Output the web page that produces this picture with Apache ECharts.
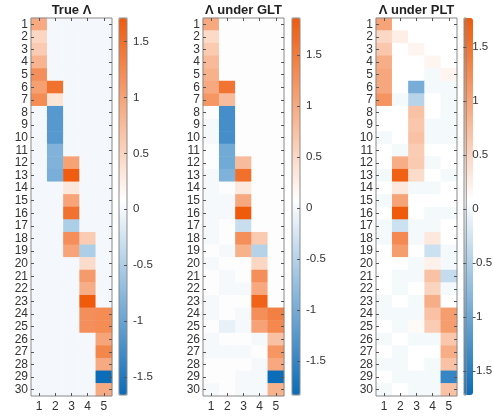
<!DOCTYPE html>
<html>
<head>
<meta charset="utf-8">
<script src="https://cdn.jsdelivr.net/npm/echarts@6/dist/echarts.min.js"></script>
<style>
  html, body { margin: 0; padding: 0; background: #ffffff; }
  #chart { width: 493px; height: 419px; }
</style>
</head>
<body>
<div id="chart"></div>
<script>
// Loading matrices (30 variables x 5 factors), row by row.
const trueLambda = [
  [0.92, 0, 0, 0, 0],
  [0.48, 0, 0, 0, 0],
  [0.60, 0, 0, 0, 0],
  [0.82, 0, 0, 0, 0],
  [1.18, 0, 0, 0, 0],
  [1.02, 1.48, 0, 0, 0],
  [1.22, 0.35, 0, 0, 0],
  [0, -1.12, 0, 0, 0],
  [0, -1.12, 0, 0, 0],
  [0, -1.12, 0, 0, 0],
  [0, -0.82, 0, 0, 0],
  [0, -0.82, 1.00, 0, 0],
  [0, -0.88, 1.68, 0, 0],
  [0, 0, 0.32, 0, 0],
  [0, 0, 0.98, 0, 0],
  [0, 0, 1.48, 0, 0],
  [0, 0, -0.50, 0, 0],
  [0, 0, 1.18, 0.58, 0],
  [0, 0, 0.98, -0.50, 0],
  [0, 0, 0, 0.42, 0],
  [0, 0, 0, 1.08, 0],
  [0, 0, 0, 0.88, 0],
  [0, 0, 0, 1.71, 0],
  [0, 0, 0, 1.18, 1.22],
  [0, 0, 0, 1.18, 1.22],
  [0, 0, 0, 0, 0.98],
  [0, 0, 0, 0, 1.28],
  [0, 0, 0, 0, 0.92],
  [0, 0, 0, 0, -1.66],
  [0, 0, 0, 0, 0.92]
];

const gltLambda = [
  [1.02, 0.08, 0.08, 0.08, 0.08],
  [0.48, 0.08, 0.08, 0.08, 0.08],
  [0.65, 0.08, 0.08, 0.08, 0.08],
  [0.82, 0.08, 0.08, 0.08, 0.08],
  [0.92, 0.08, 0.08, 0.08, 0.08],
  [1.02, 1.58, 0.08, 0.08, 0.08],
  [1.22, 0.80, 0.08, 0.08, 0.08],
  [0.08, -1.38, 0.08, 0.08, 0.08],
  [0, -1.38, 0.08, 0.08, 0.08],
  [0, -1.38, 0.08, 0.08, 0.08],
  [0.08, -1.02, 0.08, 0.08, 0.08],
  [0.08, -1.02, 0.80, 0.08, 0.08],
  [0, -0.92, 1.62, 0.08, 0.08],
  [0, 0.08, 0.32, 0.08, 0.08],
  [0, 0, 1.02, 0.08, 0.08],
  [0, 0, 1.86, 0.08, 0.08],
  [0, 0.08, -0.35, 0.08, 0.08],
  [0, 0.08, 1.28, 0.65, 0.08],
  [0.08, 0, 0.92, -0.50, 0.08],
  [0, 0.08, 0.08, 0.52, 0.08],
  [0.08, 0, 0.08, 1.28, 0.08],
  [0.08, 0, 0, 1.02, 0.08],
  [0, 0.08, 0.08, 1.76, 0.08],
  [0, 0.08, 0, 1.28, 1.45],
  [0.08, -0.10, 0, 1.08, 1.36],
  [0, 0.08, 0.08, 0, 0.75],
  [0, 0, 0, 0.08, 1.22],
  [0.08, 0.08, 0.08, 0, 1.02],
  [0.08, 0.08, 0, 0, -1.83],
  [0, 0.08, 0, 0, 0.92]
];

const pltLambda = [
  [1.02, 0.08, 0.08, 0.08, 0.08],
  [0.48, 0.25, 0.08, 0.08, 0.08],
  [0.65, 0.08, 0.18, 0.08, 0.08],
  [0.92, 0.08, 0.08, 0.18, 0.08],
  [0.98, 0.08, 0.08, 0, 0.18],
  [0.98, 0.08, -0.92, 0, 0],
  [1.18, 0, -0.45, 0.08, 0],
  [0.08, 0.08, 0.70, 0.08, 0],
  [0.08, 0.08, 0.65, 0, 0],
  [0, 0.08, 0.70, 0, 0],
  [0.08, 0, 0.60, 0.08, 0.08],
  [0.08, 0.92, 0.62, 0, 0.08],
  [0, 1.70, 0.45, 0.08, 0],
  [0.08, 0.32, 0, 0, 0.08],
  [0, 1.02, 0.08, 0.08, 0.08],
  [0.08, 1.77, 0.08, 0, 0],
  [0, -0.30, 0, 0, 0.08],
  [0, 1.28, 0, 0.32, 0.08],
  [0.08, 1.08, 0.08, -0.30, 0],
  [0.08, 0.08, 0, 0.22, 0],
  [0.08, 0, 0, 0.70, -0.35],
  [0.08, 0, 0.08, 0.52, 0],
  [0, 0.08, 0, 0.92, 0.08],
  [0, 0, 0, 0.70, 1.08],
  [0.08, 0, 0.13, 0.60, 1.08],
  [0, 0.08, 0, 0, 0.65],
  [0.08, 0, 0.08, 0.08, 0.92],
  [0, 0, 0.08, 0, 0.70],
  [0.08, 0, 0, 0, -1.40],
  [0, 0.08, 0, 0, 0.70]
];

const rowLabels = ['1','2','3','4','5','6','7','8','9','10','11','12','13','14','15',
                   '16','17','18','19','20','21','22','23','24','25','26','27','28','29','30'];
const colLabels = ['1', '2', '3', '4', '5'];
const colorbarTicks = [-1.5, -1, -0.5, 0, 0.5, 1, 1.5];

const panelTitles = ['True \u039B', '\u039B under GLT', '\u039B under PLT'];
const panelMatrices = [trueLambda, gltLambda, pltLambda];
const colorLimits = [[-1.66, 1.71], [-1.83, 1.86], [-1.72, 1.77]];

// ---- layout / styling ----
const FONT = '"Liberation Sans", Arial, Helvetica, sans-serif';
const TEXT = '#333333';
const FRAME = '#8a8a8a';
const TOP = 18, HEIGHT = 378, MAP_W = 81;
const layout = [
  { left: 31,  cbLeft: 119, cbW: 8 },
  { left: 203, cbLeft: 292, cbW: 8 },
  { left: 376, cbLeft: 464, cbW: 9 }
];
const BLUE = [11, 108, 184], ORANGE = [239, 90, 11], WHITE = [255, 255, 255];
const WHITE_POINT = 0.08;

function mix(a, b, t) {
  return 'rgb(' + a.map((v, i) => Math.round(v + (b[i] - v) * t)).join(',') + ')';
}
// diverging colour ramp: blue at min, white near zero, orange at max
function rampStops(min, max) {
  const n = 65, out = [];
  for (let k = 0; k < n; k++) {
    const v = min + (max - min) * k / (n - 1);
    if (v < WHITE_POINT) out.push(mix(WHITE, BLUE, (WHITE_POINT - v) / (WHITE_POINT - min)));
    else out.push(mix(WHITE, ORANGE, (v - WHITE_POINT) / (max - WHITE_POINT)));
  }
  return out;
}

function toCells(matrix) {
  const cells = [];
  matrix.forEach((row, r) => row.forEach((v, c) => cells.push([c, r, v])));
  return cells;
}

const grid = [], xAxis = [], yAxis = [], series = [], visualMap = [], graphic = [];
const tickStyle = { show: true, inside: true, length: 3, alignWithLabel: true, interval: 0,
                    lineStyle: { color: '#555', width: 1 } };

layout.forEach((L, p) => {
  const gMap = grid.length;
  grid.push({ left: L.left, top: TOP, width: MAP_W, height: HEIGHT, show: true,
              borderColor: FRAME, borderWidth: 1, backgroundColor: 'transparent', z: 5 });
  const gBar = grid.length;
  grid.push({ left: L.cbLeft, top: TOP, width: L.cbW, height: HEIGHT - 1, show: true,
              borderColor: FRAME, borderWidth: 1, backgroundColor: 'transparent', z: 10 });

  const xBottom = xAxis.length;
  xAxis.push({ type: 'category', gridIndex: gMap, data: colLabels, position: 'bottom', z: 6,
               axisLine: { show: false }, axisTick: tickStyle, splitLine: { show: false },
               axisLabel: { interval: 0, margin: 5, fontSize: 12, color: TEXT, fontFamily: FONT } });
  xAxis.push({ type: 'category', gridIndex: gMap, data: colLabels, position: 'top', z: 6,
               axisLine: { show: false }, axisTick: tickStyle, axisLabel: { show: false } });
  xAxis.push({ type: 'category', gridIndex: gBar, data: ['c'], show: false });

  const yLeft = yAxis.length;
  yAxis.push({ type: 'category', gridIndex: gMap, data: rowLabels, inverse: true, position: 'left', z: 6,
               axisLine: { show: false }, axisTick: tickStyle, splitLine: { show: false },
               axisLabel: { interval: 0, margin: 3, fontSize: 12, color: TEXT, fontFamily: FONT } });
  yAxis.push({ type: 'category', gridIndex: gMap, data: rowLabels, inverse: true, position: 'right', z: 6,
               axisLine: { show: false }, axisTick: tickStyle, axisLabel: { show: false } });
  yAxis.push({ type: 'value', gridIndex: gBar, position: 'right', z: 11,
               min: colorLimits[p][0], max: colorLimits[p][1],
               axisLine: { show: false }, splitLine: { show: false },
               axisTick: { show: true, inside: true, length: 3, customValues: colorbarTicks,
                           lineStyle: { color: '#555' } },
               axisLabel: { customValues: colorbarTicks, margin: 6, fontSize: 11.5, color: TEXT,
                            fontFamily: FONT, showMinLabel: true, showMaxLabel: true } });

  series.push({ type: 'heatmap', xAxisIndex: xBottom, yAxisIndex: yLeft, data: toCells(panelMatrices[p]),
                itemStyle: { borderWidth: 0 }, emphasis: { disabled: true } });

  visualMap.push({ type: 'continuous', seriesIndex: p, min: colorLimits[p][0], max: colorLimits[p][1],
                   inRange: { color: rampStops(colorLimits[p][0], colorLimits[p][1]) },
                   show: true, calculable: false, hoverLink: false, orient: 'vertical',
                   left: L.cbLeft, top: TOP, itemWidth: L.cbW, itemHeight: HEIGHT - 1,
                   padding: 0, text: null, showLabel: false, z: 2 });

  graphic.push({ type: 'text', x: L.left + MAP_W / 2, y: 10, z: 20,
                 style: { text: panelTitles[p], fill: '#222', align: 'center', verticalAlign: 'middle',
                          font: 'bold 13px ' + FONT } });
});

const chart = echarts.init(document.getElementById('chart'), null, { renderer: 'canvas' });
chart.setOption({
  animation: false,
  backgroundColor: '#ffffff',
  grid, xAxis, yAxis, series, visualMap, graphic
});
</script>
</body>
</html>
